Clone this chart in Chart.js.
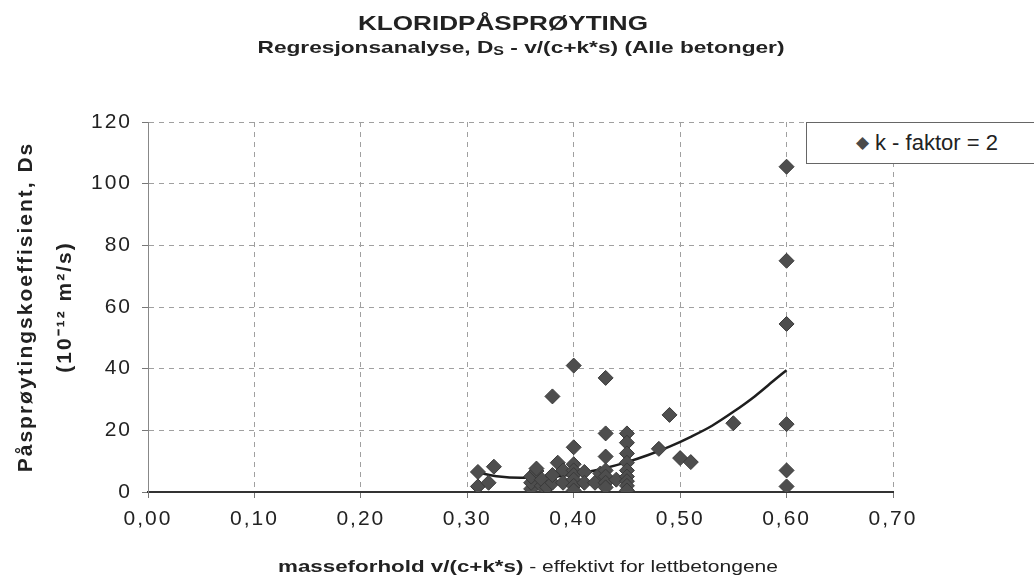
<!DOCTYPE html>
<html>
<head>
<meta charset="utf-8">
<script src="https://cdn.jsdelivr.net/npm/chart.js@4.4.1/dist/chart.umd.min.js"></script>
<style>
  body { margin: 0; background: #fff; }
  #wrap { position: relative; width: 1034px; height: 581px; overflow: hidden; }
  #legendBox {
    position: absolute; left: 806px; top: 122px; width: 240px; height: 42px;
    border: 1px solid #666; background: #fff; box-sizing: border-box;
    font: 22px "Liberation Sans", Arial, sans-serif; color: #222;
    line-height: 40px; padding-left: 49px; white-space: nowrap;
  }
  #legendBox span { color: #4a4a4a; font-size: 17px; margin-right: 6px; vertical-align: 2px; }
</style>
</head>
<body>
<div id="wrap">
  <canvas id="c1" width="1034" height="581"></canvas>
  <div id="legendBox"><span>&#9670;</span>k - faktor = 2</div>
</div>
<script>
// measured points, k - faktor = 2
const pointsX = [
  0.31, 0.31, 0.32, 0.325,
  0.36, 0.36, 0.36, 0.365, 0.365, 0.37, 0.37, 0.375, 0.38, 0.38, 0.38, 0.385, 0.39, 0.39,
  0.40, 0.40, 0.40, 0.40, 0.40, 0.40, 0.40, 0.40, 0.41, 0.41,
  0.42, 0.425, 0.43, 0.43, 0.43, 0.43, 0.43, 0.43, 0.43, 0.44,
  0.45, 0.45, 0.45, 0.45, 0.45, 0.45, 0.45, 0.45, 0.45,
  0.48, 0.49, 0.50, 0.51, 0.55,
  0.60, 0.60, 0.60, 0.60, 0.60, 0.60
];
const pointsY = [
  6.5, 1.8, 3, 8.2,
  1, 3, 5, 6.8, 7.6, 2, 4, 1.5, 3, 5.5, 31, 9.5, 7, 3,
  41, 14.5, 9, 7, 5.5, 4, 2, 0.5, 6.5, 3,
  3, 6, 37, 19, 11.5, 7, 5, 3, 1.5, 4,
  19, 16, 12.5, 9.5, 7, 5, 3.5, 2, 0.5,
  14, 25, 11, 9.7, 22.3,
  105.5, 75, 54.5, 22, 7, 1.8
];

// trend curve
const trendX = [0.31, 0.33, 0.35, 0.37, 0.39, 0.41, 0.43, 0.45, 0.47, 0.49, 0.51, 0.53, 0.55, 0.57, 0.59, 0.60];
const trendY = [6.3, 5.0, 4.6, 4.7, 5.3, 6.3, 7.8, 9.7, 12.0, 14.7, 17.9, 21.5, 26.0, 31.0, 36.7, 39.5];

const xTicks = [0, 0.1, 0.2, 0.3, 0.4, 0.5, 0.6, 0.7];
const yTicks = [0, 20, 40, 60, 80, 100, 120];

const font = '"Liberation Sans", Arial, sans-serif';

// draws a row of text runs, stretched sideways to a given width (the scan is wide)
function drawRuns(c, runs, cx, baseY, targetW) {
  c.save();
  c.letterSpacing = '0px';
  let base = 0;
  runs.forEach(r => { c.font = r.font; r.w = c.measureText(r.t).width; base += r.w; });
  const sx = targetW / base;
  c.translate(cx - targetW / 2, baseY);
  c.scale(sx, 1);
  c.fillStyle = '#222';
  c.textAlign = 'left';
  c.textBaseline = 'alphabetic';
  let x = 0;
  runs.forEach(r => {
    c.font = r.font;
    c.fillText(r.t, x, r.dy || 0);
    x += r.w;
  });
  c.restore();
}

const textPlugin = {
  id: 'texts',
  beforeDraw(chart) {
    chart.ctx.letterSpacing = '2px';
  },
  afterDraw(chart) {
    const c = chart.ctx;
    c.letterSpacing = '0px';
    drawRuns(c, [{ t: 'KLORIDPÅSPRØYTING', font: 'bold 20px ' + font }], 503, 30, 290);
    drawRuns(c, [
      { t: 'Regresjonsanalyse, D', font: 'bold 17px ' + font },
      { t: 'S', font: 'bold 12px ' + font, dy: 2 },
      { t: ' - v/(c+k*s) (Alle betonger)', font: 'bold 17px ' + font }
    ], 521, 53, 527);
    drawRuns(c, [
      { t: 'masseforhold v/(c+k*s)', font: 'bold 17px ' + font },
      { t: ' - effektivt for lettbetongene', font: '16px ' + font }
    ], 528, 572, 500);
  }
};

const chart = new Chart(document.getElementById('c1'), {
  type: 'scatter',
  data: {
    datasets: [
      {
        label: 'k - faktor = 2',
        data: pointsX.map((x, i) => ({ x: x, y: pointsY[i] })),
        pointStyle: 'rectRot',
        pointRadius: 7.5,
        backgroundColor: '#4e4e4e',
        borderColor: '#3a3a3a',
        borderWidth: 1
      },
      {
        label: 'trend',
        data: trendX.map((x, i) => ({ x: x, y: trendY[i] })),
        showLine: true,
        pointRadius: 0,
        borderColor: '#1e1e1e',
        borderWidth: 2.5,
        cubicInterpolationMode: 'monotone'
      }
    ]
  },
  options: {
    responsive: false,
    animation: false,
    devicePixelRatio: 1,
    layout: { padding: { left: 0, right: 141, top: 122, bottom: 0 } },
    plugins: {
      legend: { display: false },
      tooltip: { enabled: false }
    },
    scales: {
      x: {
        type: 'linear',
        min: 0,
        max: 0.7,
        afterBuildTicks: (scale) => { scale.ticks = xTicks.map(v => ({ value: v })); },
        afterFit: (scale) => { scale.height = 89; },
        ticks: {
          color: '#222',
          padding: 9,
          font: { family: font, size: 21 },
          callback: (v) => v.toFixed(2).replace('.', ',')
        },
        grid: {
          color: '#a0a0a0',
          tickLength: 6,
          tickColor: '#777'
        },
        border: { display: true, color: '#333', width: 2, dash: [5, 5] }
      },
      y: {
        type: 'linear',
        min: 0,
        max: 120,
        afterBuildTicks: (scale) => { scale.ticks = yTicks.map(v => ({ value: v })); },
        afterFit: (scale) => { scale.width = 148; },
        ticks: {
          color: '#222',
          padding: 10,
          font: { family: font, size: 21 }
        },
        grid: {
          color: '#a0a0a0',
          tickLength: 6,
          tickColor: '#777'
        },
        border: { display: true, color: '#888', width: 1, dash: [5, 5] },
        title: {
          display: true,
          text: ['Påsprøytingskoeffisient, Ds', '(10⁻¹² m²/s)'],
          color: '#222',
          font: { family: font, size: 21, weight: 'bold', lineHeight: 1.85 },
          padding: { top: 7, bottom: 0 }
        }
      }
    }
  },
  plugins: [textPlugin]
});
</script>
</body>
</html>
